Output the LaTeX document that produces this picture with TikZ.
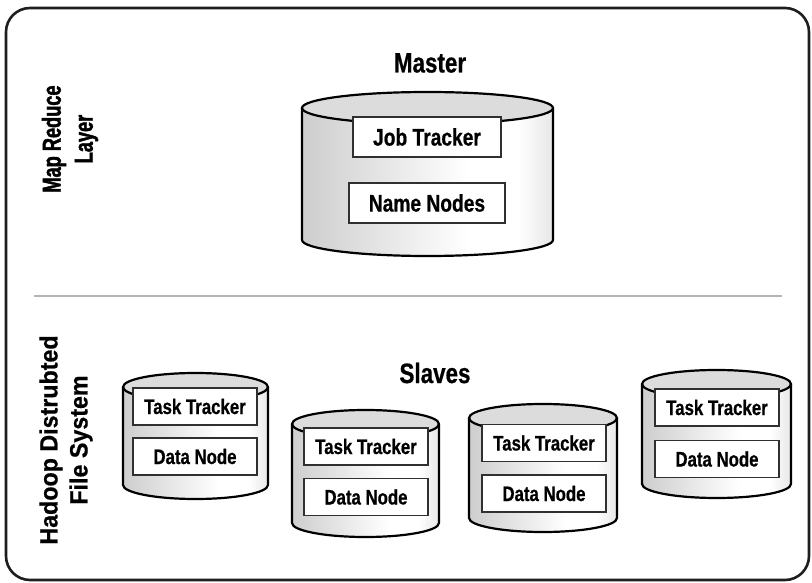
\documentclass[tikz,border=0pt]{standalone}
\usepackage{fontspec}
\setmainfont[FakeStretch=0.8,BoldFeatures={FakeBold=0.6}]{Liberation Sans}
\newfontfamily\widelabel[FakeStretch=0.93,BoldFeatures={FakeBold=0.6}]{Liberation Sans}
\newfontfamily\narrowlabel[FakeStretch=0.7,BoldFeatures={FakeBold=1.6}]{Liberation Sans}
\definecolor{framecol}{HTML}{1E1E1E}
\definecolor{rulecol}{HTML}{B4B4B4}
\definecolor{cylgray}{HTML}{9C9C9C}
\definecolor{lidgray}{HTML}{DCDCDC}
\definecolor{boxline}{HTML}{303030}
\pgfdeclarehorizontalshading{cylside}{100bp}{color(0bp)=(cylgray); color(12bp)=(cylgray!70); color(58bp)=(white); color(68bp)=(white); color(90bp)=(cylgray!75); color(100bp)=(cylgray)}
% drum: #1 left x, #2 right x, #3 lid centre y, #4 base centre y, #5 ellipse y radius
\newcommand\drum[5]{%
  \pgfmathsetmacro\drumrx{(#2-#1)/2}%
  \pgfmathsetmacro\drumcx{(#1+#2)/2}%
  \fill[shading=cylside] (#1,#3) -- (#1,#4)
     arc[start angle=180,end angle=0,x radius=\drumrx,y radius=#5] -- (#2,#3) -- cycle;
  \filldraw[fill=lidgray,draw=black,line width=2.2] (\drumcx,#3) ellipse[x radius=\drumrx,y radius=#5];
  \draw[line width=2.2,line join=round] (#1,#3) -- (#1,#4)
     arc[start angle=180,end angle=0,x radius=\drumrx,y radius=#5] -- (#2,#3);
}
\begin{document}
\begin{tikzpicture}[x=1pt,y=-1pt,
  bigbox/.style={draw=boxline,fill=white,line width=1.2,inner sep=0pt,
    font=\bfseries\fontsize{24}{28}\selectfont},
  smallbox/.style={draw=boxline,fill=white,line width=1.2,inner sep=0pt,
    minimum width=124pt,minimum height=37pt,font=\bfseries\fontsize{21}{25}\selectfont},
  heading/.style={font=\bfseries\fontsize{28}{33}\selectfont},
  sidelabel/.style={rotate=90,align=center}]
\useasboundingbox (0,0) rectangle (812,583);
\fill[white] (0,0) rectangle (812,583);

% outer frame and layer divider
\draw[framecol,line width=2.6,rounded corners=24] (6,8) rectangle (809,580);
\draw[rulecol,line width=2] (34,296) -- (782,296);

% layer labels
\node[sidelabel,font=\narrowlabel\bfseries\fontsize{26}{32}\selectfont] (mrl) at (70,139) {Map Reduce\\Layer};
\node[sidelabel,font=\widelabel\bfseries\fontsize{25}{30}\selectfont] (hdfs) at (66,440) {Hadoop Distrubted\\File System};

% master
\node[heading] (master) at (430,63) {Master};
\drum{302}{553}{108}{240}{16}
\node[bigbox,minimum width=148pt,minimum height=40pt] (jt) at (427,137) {Job Tracker};
\node[bigbox,minimum width=156pt,minimum height=40pt] (nn) at (427,203) {Name Nodes};

% slaves
\node[heading] (slaves) at (435,373) {Slaves};
\drum{123}{268}{387}{485}{14}
\node[smallbox] (tt1) at (195,406.5) {Task Tracker};
\node[smallbox] (dn1) at (195,456.5) {Data Node};

\drum{292}{439}{424}{523}{14}
\node[smallbox] (tt2) at (366,446.5) {Task Tracker};
\node[smallbox] (dn2) at (366,497) {Data Node};

\drum{469}{617}{418}{518}{14}
\node[smallbox] (tt3) at (544,443) {Task Tracker};
\node[smallbox] (dn3) at (544,493.5) {Data Node};

\drum{642}{791}{384}{484}{14}
\node[smallbox] (tt4) at (717,407.5) {Task Tracker};
\node[smallbox] (dn4) at (717,459) {Data Node};
\end{tikzpicture}
\end{document}
